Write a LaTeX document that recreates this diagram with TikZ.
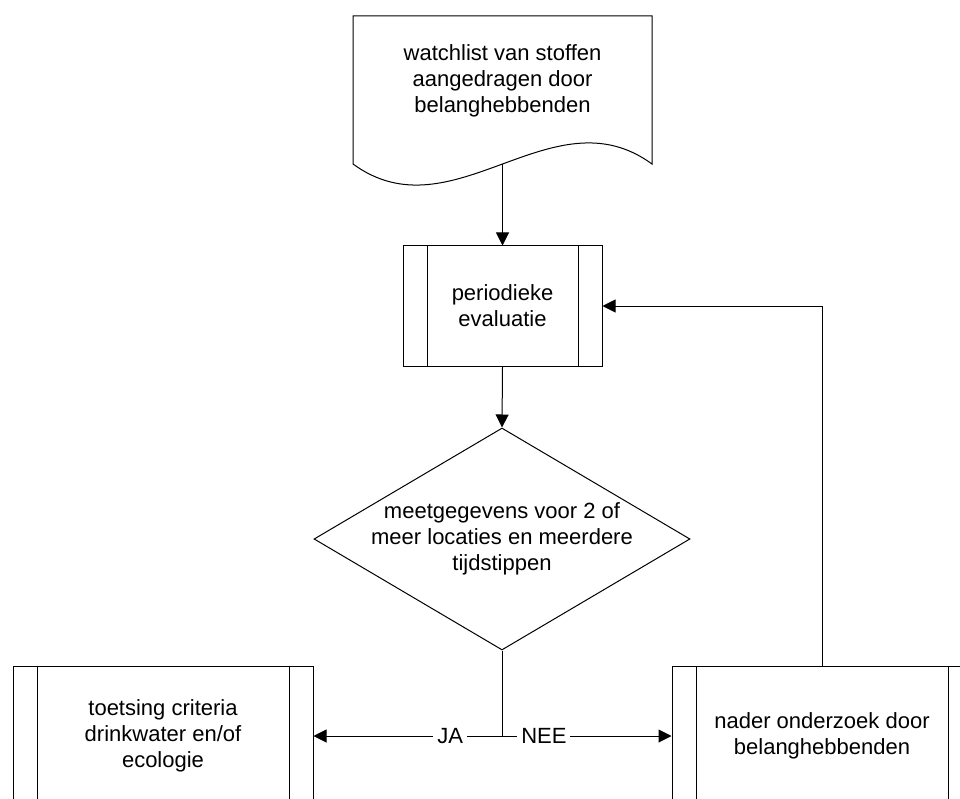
\documentclass[tikz,border=0pt]{standalone}
\usepackage{fontspec}
\setmainfont{Liberation Sans}
\usetikzlibrary{shapes.geometric,arrows.meta}
\begin{document}
\begin{tikzpicture}[x=1pt,y=-1pt,
  line width=1pt,
  every node/.style={font=\fontsize{22}{26}\selectfont, align=center},
  flowtip/.style={-{Triangle[length=13pt,width=13pt]}},
  procbox/.style={draw, rectangle, inner sep=0pt,
    path picture={
      \draw ([xshift=24pt]path picture bounding box.north west) -- ([xshift=24pt]path picture bounding box.south west);
      \draw ([xshift=-24pt]path picture bounding box.north east) -- ([xshift=-24pt]path picture bounding box.south east);
    }},
  decbox/.style={draw, diamond, inner sep=0pt},
  edgelabel/.style={fill=white, inner sep=4pt}
]
\useasboundingbox (0,0) rectangle (960,799);
\clip (0,0) rectangle (960,799);

% document shape with wavy bottom
\draw (353,16) -- (652,16) -- (652,164)
  .. controls (552,91) and (453,237) .. (353,164) -- cycle;
\node (doctext) at (502.5,81) {watchlist van stoffen\\aangedragen door\\belanghebbenden};
\coordinate (docout) at (502.5,164);

% periodic evaluation
\node[procbox, minimum width=199pt, minimum height=120pt] (proc) at (502.5,306)
  {periodieke\\evaluatie};

% decision
\node[decbox, minimum width=376pt, minimum height=222pt] (dec) at (502,539) {};
\node (dectext) at (502,539) {meetgegevens voor 2 of\\meer locaties en meerdere\\tijdstippen};

% outcome boxes
\node[procbox, minimum width=300pt, minimum height=140pt] (lbox) at (163,736)
  {toetsing criteria\\drinkwater en/of\\ecologie};
\node[procbox, minimum width=300pt, minimum height=140pt] (rbox) at (822,736)
  {nader onderzoek door\\belanghebbenden};

% connectors
\draw[flowtip] (docout) -- (proc.north);
\draw[flowtip] (proc.south) -- (dec.north);
\coordinate (split) at (dec.south |- lbox.east);
\draw (dec.south) -- (split);
\draw[flowtip] (split) -- node[edgelabel, pos=0.275] {JA} (lbox.east);
\draw[flowtip] (split) -- node[edgelabel, pos=0.247] {NEE} (rbox.west);
\draw[flowtip] (rbox.north) |- (proc.east);
\end{tikzpicture}
\end{document}
